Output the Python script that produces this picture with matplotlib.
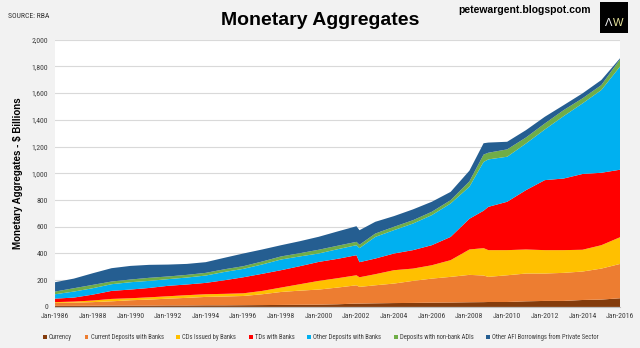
import numpy as np
import pandas as pd
import matplotlib
matplotlib.use("Agg")
import matplotlib.pyplot as plt
import matplotlib.dates as mdates
from matplotlib.patches import Rectangle
from matplotlib.ticker import FuncFormatter

plt.rcParams['font.family'] = ['Liberation Sans', 'DejaVu Sans']
narrow = ['Roboto Condensed', 'Liberation Sans', 'DejaVu Sans']

# Monetary aggregates, $ billions
dates = ["1986-01", "1987-01", "1988-01", "1989-01", "1990-01", "1991-01",
         "1992-01", "1993-01", "1994-01", "1995-01", "1996-01", "1997-01",
         "1998-01", "1999-01", "2000-01", "2001-01", "2002-01", "2002-03",
         "2003-01", "2004-01", "2005-01", "2006-01", "2007-01", "2008-01",
         "2008-10", "2009-01", "2010-01", "2011-01", "2012-01", "2013-01",
         "2014-01", "2015-01", "2016-01"]

currency = [8, 8, 9, 10, 10, 10, 11, 11, 12, 12, 13, 14, 15, 16, 17, 20, 25, 25,
            27, 29, 30, 32, 33, 35, 36, 37, 37, 42, 45, 45, 52, 55, 65]
current_dep = [22, 24, 27, 32, 40, 45, 51, 57, 63, 66, 69, 81, 97, 106, 113, 125, 137, 125,
               135, 146, 165, 180, 192, 205, 199, 188, 200, 208, 205, 210, 213, 232, 257]
cds = [6, 8, 12, 18, 15, 17, 18, 20, 20, 20, 20, 25, 33, 48, 65, 70, 75, 72,
       83, 100, 92, 100, 125, 190, 205, 200, 188, 180, 175, 170, 163, 175, 200]
tds = [26, 30, 44, 60, 65, 70, 78, 80, 85, 102, 120, 128, 130, 135, 142, 145, 150, 113,
       117, 125, 138, 150, 174, 230, 280, 324, 362, 444, 524, 536, 567, 542, 505]
other_dep = [33, 45, 48, 50, 55, 53, 50, 52, 55, 62, 63, 70, 80, 73, 63, 72, 75, 105,
             162, 175, 199, 225, 250, 240, 365, 355, 337, 349, 379, 467, 528, 619, 773]
nonbank = [20, 25, 25, 20, 20, 23, 20, 20, 20, 20, 20, 22, 23, 24, 28, 26, 25, 25,
           25, 25, 25, 25, 25, 40, 55, 50, 55, 45, 45, 45, 38, 37, 55]
afi_borrow = [70, 72, 87, 100, 102, 97, 89, 82, 80, 86, 95, 90, 84, 90, 97, 107, 117, 109,
              88, 80, 81, 75, 62, 80, 85, 76, 57, 55, 50, 37, 37, 38, 7]

labels = ["Currency", "Current Deposits with Banks", "CDs Issued by Banks",
          "TDs with Banks", "Other Deposits with Banks",
          "Deposits with non-bank ADIs", "Other AFI Borrowings from Private Sector"]
colors = ["#843c0c", "#ed7d31", "#ffc000", "#ff0000", "#00b0f0", "#70ad47", "#255e91"]

x = pd.to_datetime(dates)
bg = "#f2f2f2"

fig = plt.figure(figsize=(6.4, 3.48), dpi=100, facecolor=bg)
ax = fig.add_axes([0.086, 0.118, 0.883, 0.768])
ax.set_facecolor("white")

ax.stackplot(x, currency, current_dep, cds, tds, other_dep, nonbank, afi_borrow,
             colors=colors, labels=labels, linewidth=0)

ax.set_xlim(pd.Timestamp("1986-01-01"), pd.Timestamp("2016-01-01"))
ax.set_ylim(0, 2000)
ax.set_yticks(np.arange(0, 2001, 200))
ax.yaxis.set_major_formatter(FuncFormatter(lambda v, p: f"{v:,.0f}"))
ax.xaxis.set_major_locator(mdates.YearLocator(2, month=1, day=1))
ax.xaxis.set_major_formatter(mdates.DateFormatter("Jan-%Y"))
ax.grid(axis="y", color="#d9d9d9", linewidth=0.8)
ax.set_axisbelow(True)
for s in ["top", "right", "left"]:
    ax.spines[s].set_visible(False)
ax.spines["bottom"].set_color("#bfbfbf")
ax.tick_params(axis="both", length=0, labelsize=5.6, colors="#404040", pad=5)
ax.tick_params(axis="x", pad=4.5)
for lbl in ax.get_xticklabels() + ax.get_yticklabels():
    lbl.set_family(narrow)

ax.set_ylabel("Monetary Aggregates - $ Billions", fontsize=7, fontweight="bold",
              labelpad=6)

fig.text(0.5, 0.94, "Monetary Aggregates", ha="center", va="center",
         fontsize=14, fontweight="bold")
fig.text(0.013, 0.955, "SOURCE: RBA", ha="left", va="center", fontsize=5.5,
         color="#333333", family=narrow)
fig.text(0.923, 0.97, "petewargent.blogspot.com", ha="right", va="center",
         fontsize=7.5, fontweight="bold")

# logo box
fig.patches.append(Rectangle((0.9375, 0.905), 0.044, 0.09, transform=fig.transFigure,
                             facecolor="black", edgecolor="none"))
fig.text(0.951, 0.935, "Λ", ha="center", va="center", fontsize=8, color="#f5f5f5")
fig.text(0.966, 0.935, "W", ha="center", va="center", fontsize=8, color="#e6e29a")

leg = fig.legend(loc="center left", bbox_to_anchor=(0.058, 0.03), ncol=7, frameon=False,
                 prop={'family': narrow, 'size': 4.8}, handlelength=0.55,
                 handleheight=0.55, handletextpad=0.35, columnspacing=1.9)
for t in leg.get_texts():
    t.set_color("#404040")

fig.savefig("out.png", dpi=100, facecolor=bg)
